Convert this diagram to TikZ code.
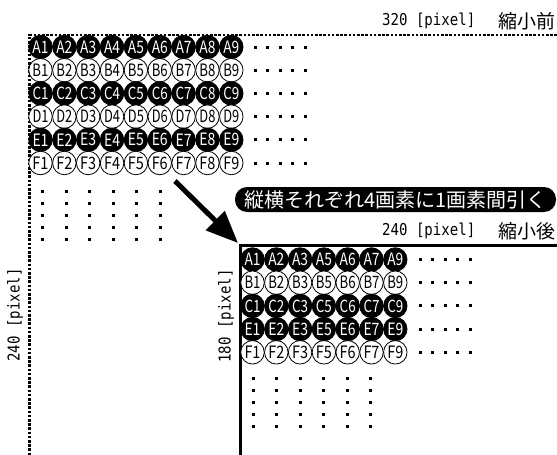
\documentclass[tikz,border=0pt]{standalone}
\usepackage{fontspec}
\setmainfont{Noto Sans CJK JP}
\newfontfamily\pxmono{DejaVu Sans Mono}
\usetikzlibrary{arrows.meta}
\tikzset{
  pxbk/.style={circle, fill=black, draw=black, line width=0.8pt, minimum size=23.5pt, inner sep=0pt, text=white},
  pxwh/.style={circle, fill=white, draw=black, line width=0.8pt, minimum size=23.5pt, inner sep=0pt, text=black},
  bigframe/.style={line width=2.6pt, dash pattern=on 2.6pt off 1.6pt},
  smallframe/.style={line width=3pt},
  lbl/.style={inner sep=0pt},
  pill/.style={fill=black, text=white, rounded corners=12pt, minimum height=25pt, minimum width=321pt, inner sep=0pt, font=\fontsize{20}{20}\selectfont},
  bigarrow/.style={line width=5pt, -{Triangle[length=32pt,width=26pt]}},
}
\newcommand{\pxdot}[2]{\fill (#1-1.5,#2-1.5) rectangle (#1+1.5,#2+1.5);}
\newcommand{\pxsize}[1]{\resizebox{93pt}{12.5pt}{\pxmono #1}}
\newcommand{\jplbl}[1]{{\fontsize{19}{19}\selectfont #1}}
\newcommand{\cl}[1]{\resizebox{16pt}{12.5pt}{#1}}
\begin{document}
\begin{tikzpicture}[x=1pt,y=-1pt]
\useasboundingbox (0,0) rectangle (557,455);
% big frame (before)
\draw[bigframe] (557,35) -- (29.5,35) -- (29.5,455);
\node[lbl, anchor=west] (t320) at (382,21) {\pxsize{320 [pixel]}};
\node[lbl, anchor=east] (tbefore) at (556,21) {\jplbl{縮小前}};
\node[lbl, rotate=90] (t240l) at (15,315) {\pxsize{240 [pixel]}};
% circles before
\foreach \r/\st [count=\i from 0] in {A/pxbk,B/pxwh,C/pxbk,D/pxwh,E/pxbk,F/pxwh}{
  \foreach \c in {1,...,9}{
    \node[\st] (b\r\c) at ({40.5+(\c-1)*23.85},{47+\i*23.2}) {\cl{\r\c}};
  }
  \foreach \k in {0,...,4}{ \pxdot{255+\k*12.5}{47+\i*23.2} }
}
\foreach \j in {0,...,4}{
  \foreach \k in {0,...,5}{ \pxdot{42.5+\k*23.5}{191+\j*12} }
}
% arrow
\coordinate (arrS) at (175,181);
\coordinate (arrE) at (238,243);
\draw[bigarrow] (arrS) -- (arrE);
\node[pill] (note) at (395.5,199.5) {縦横それぞれ4画素に1画素間引く};
% small frame (after)
\draw[smallframe] (557,245) -- (240,245) -- (240,455);
\node[lbl, anchor=west] (t240) at (382,231) {\pxsize{240 [pixel]}};
\node[lbl, anchor=east] (tafter) at (556,231) {\jplbl{縮小後}};
\node[lbl, rotate=90] (t180) at (226,316) {\pxsize{180 [pixel]}};
\foreach \r/\st [count=\i from 0] in {A/pxbk,B/pxwh,C/pxbk,E/pxbk,F/pxwh}{
  \foreach \c [count=\m from 0] in {1,2,3,5,6,7,9}{
    \node[\st] (s\r\c) at ({252.5+\m*23.8},{259.5+\i*23.2}) {\cl{\r\c}};
  }
  \foreach \k in {0,...,4}{ \pxdot{420+\k*12.5}{259.5+\i*23.2} }
}
\foreach \j in {0,...,4}{
  \foreach \k in {0,...,5}{ \pxdot{253.5+\k*23.4}{378+\j*12.2} }
}
\end{tikzpicture}
\end{document}
